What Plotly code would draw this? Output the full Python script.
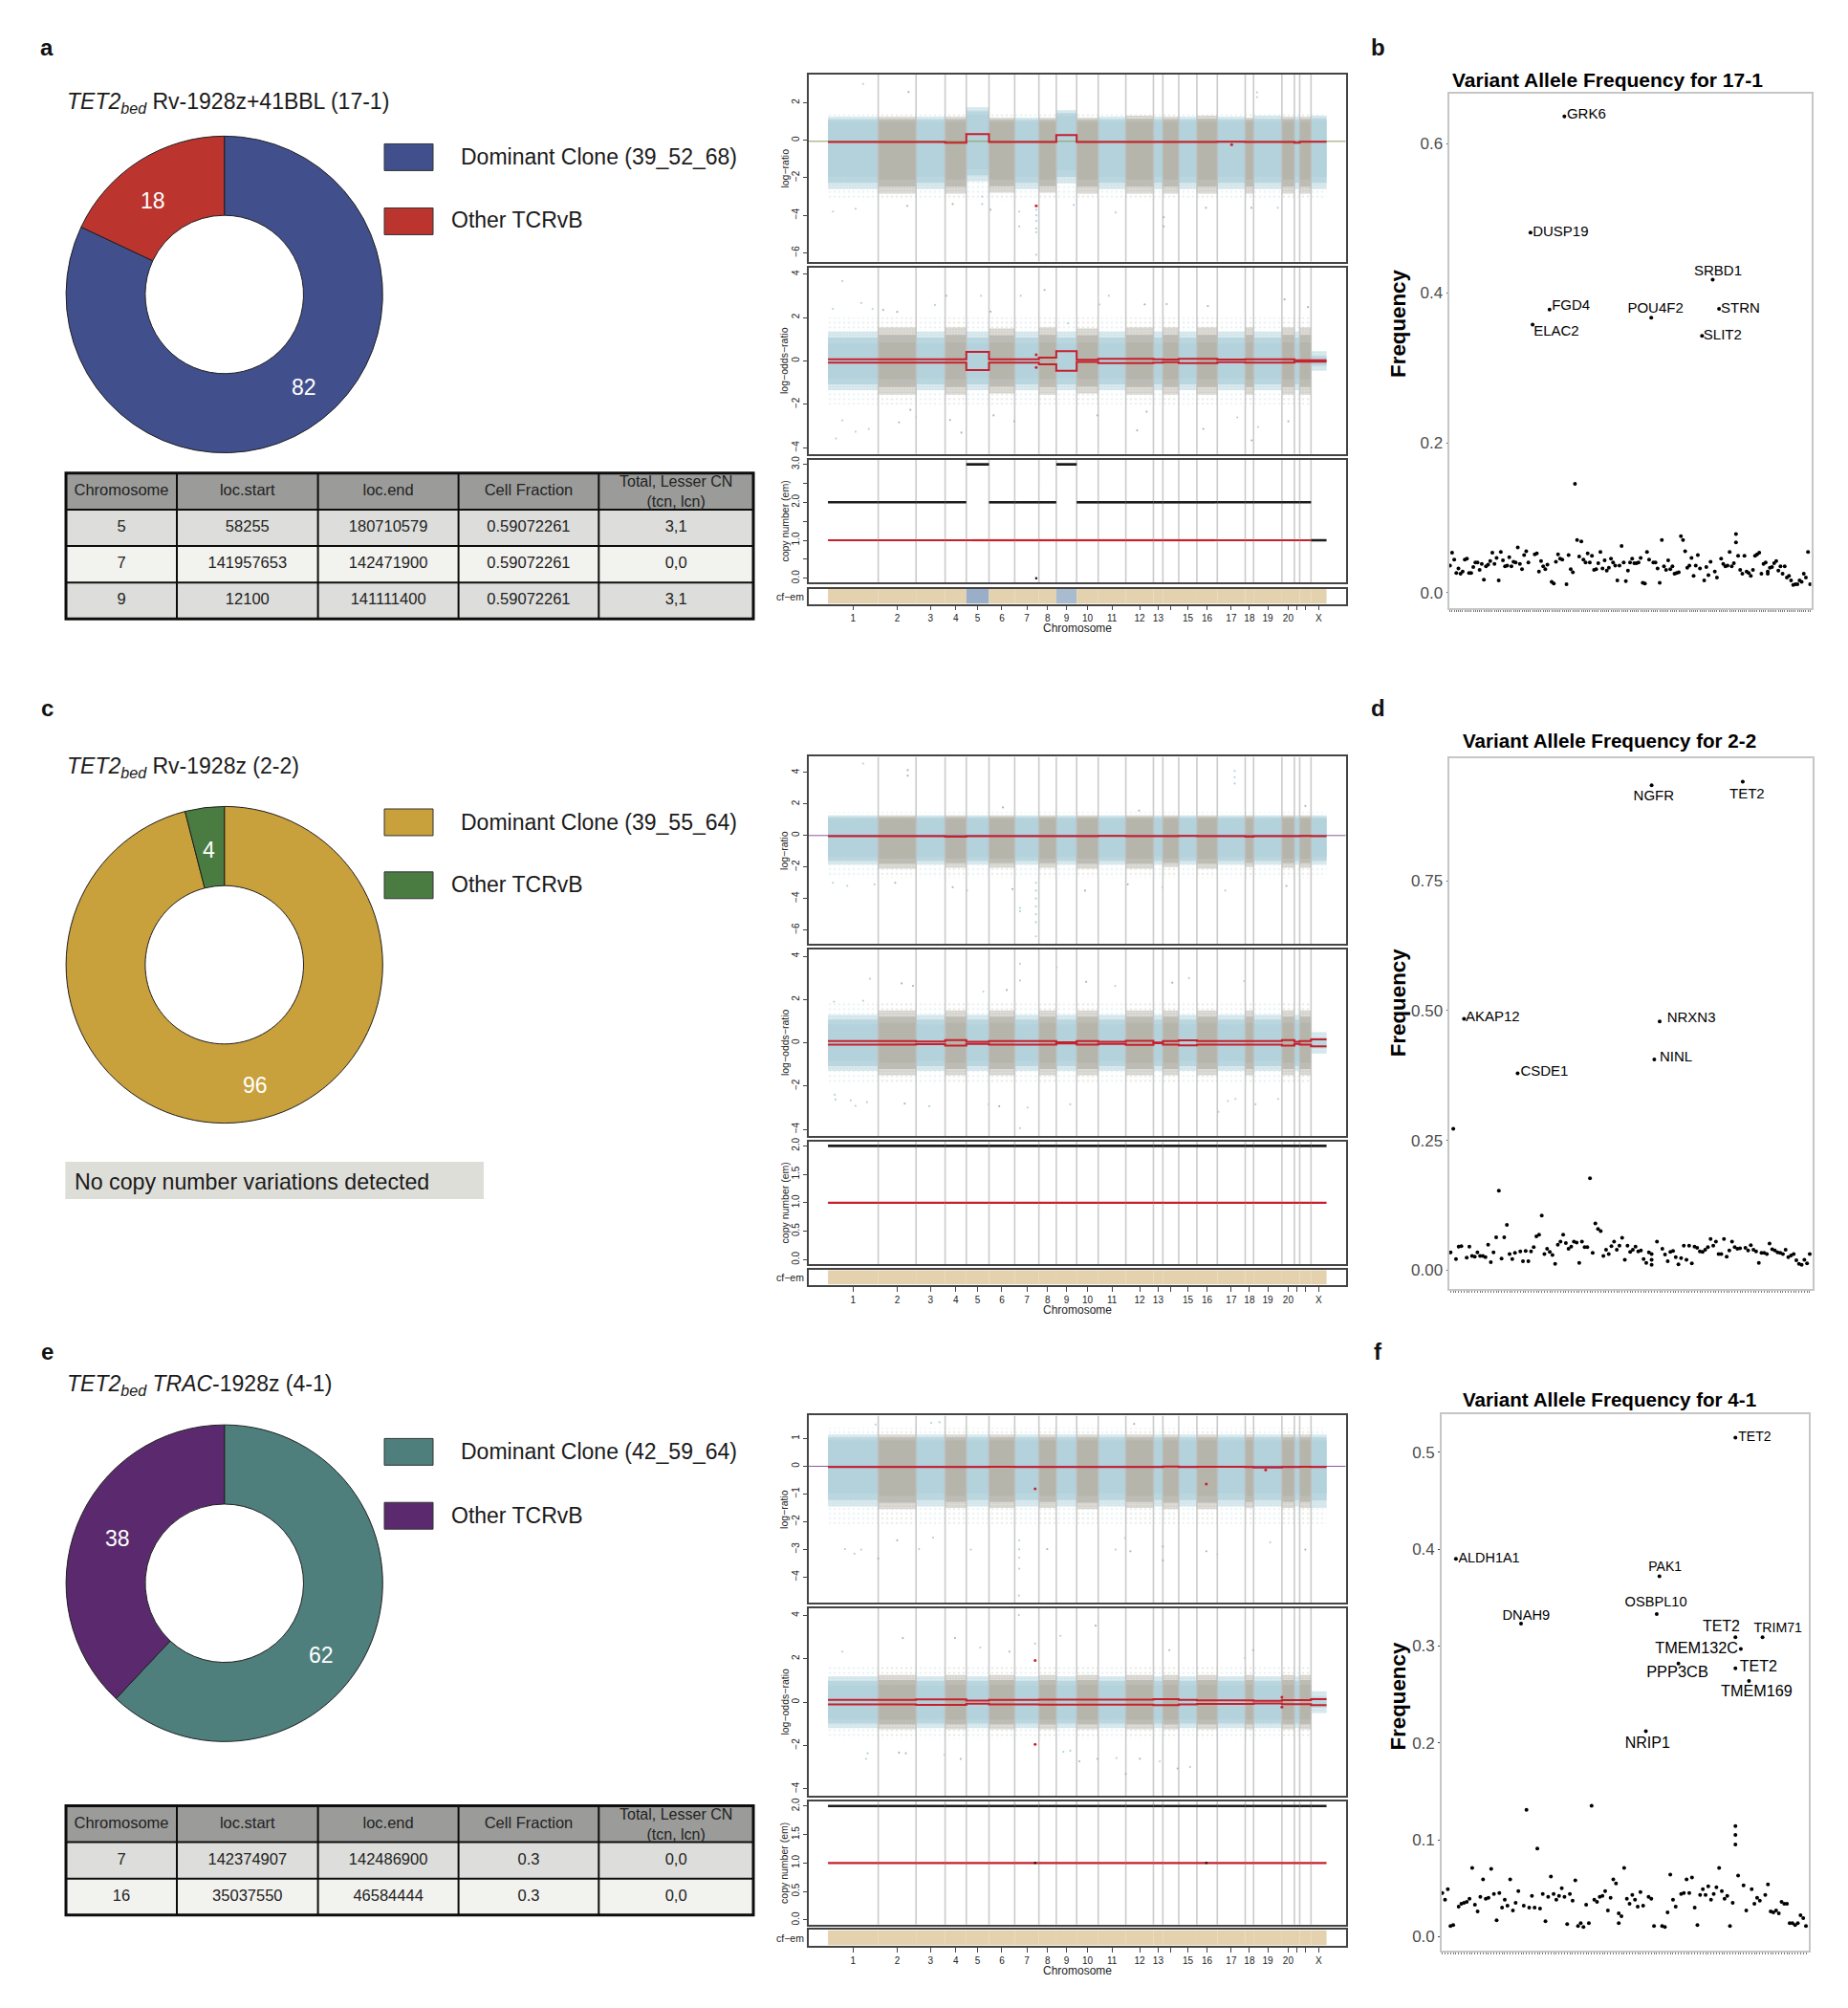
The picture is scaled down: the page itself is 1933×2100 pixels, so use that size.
import plotly.graph_objects as go

W, H = 1933, 2100
FONT = "Liberation Sans"

# ---------- chromosome layout ----------
chrom_names = ["1","2","3","4","5","6","7","8","9","10","11","12","13","14","15","16","17","18","19","20","21","22","X"]
chrom_shown = ["1","2","3","4","5","6","7","8","9","10","11","12","13","15","16","17","18","19","20","X"]
chrom_len = [133,100,77,56,60,68,64,46,54,57,73,73,25,42,48,54,74,22,75,33,14,30,41]

# ---------- sample a ----------
a_lr_core_hi = [.98,.98,.98,.98,1.35,.98,.98,.98,1.3,.98,.98,.98,.98,.98,.98,.98,.98,.98,.98,.98,.98,.98,1.05]
a_lr_core_lo = [-1.95,-2.1,-1.95,-2.1,-1.55,-2.1,-1.95,-2.1,-1.6,-2.1,-1.95,-2.1,-1.95,-2.1,-1.95,-2.1,-1.95,-2.1,-1.95,-2.1,-1.95,-2.1,-1.95]
a_lr_edge_hi = [1.25,1.25,1.25,1.25,1.75,1.2,1.2,1.2,1.6,1.2,1.25,1.3,1.25,1.25,1.25,1.3,1.25,1.2,1.3,1.25,1.25,1.25,1.3]
a_lr_edge_lo = [-2.6,-2.85,-2.6,-2.85,-2.2,-2.8,-2.6,-2.8,-2.3,-2.85,-2.6,-2.85,-2.6,-2.85,-2.6,-2.85,-2.6,-2.85,-2.6,-2.85,-2.6,-2.85,-2.6]
a_lr_far = (1.5, -3.2)
a_or_core = [.8,.85,.8,.85,.8,.85,.8,.85,.8,.85,.8,.85,.8,.85,.8,.85,.8,.85,.8,.85,.8,.85,0]
a_or_edge = [1.35,1.55,1.35,1.55,1.35,1.5,1.35,1.55,1.35,1.5,1.35,1.55,1.35,1.55,1.35,1.55,1.35,1.55,1.35,1.55,1.35,1.55,.45]
a_or_far = 2.0
a_lr_seg = [-.1,-.1,-.1,-.13,.33,-.1,-.1,-.1,.27,-.1,-.1,-.1,-.1,-.1,-.1,-.1,-.08,-.1,-.1,-.1,-.13,-.08,-.08]
a_or_seg = [.08,.08,.08,.08,.42,.08,.08,.15,.45,.05,.1,.1,.08,.06,.1,.1,.06,.08,.08,.08,.03,.03,.03]
a_tcn = [2,2,2,2,3,2,2,2,3,2,2,2,2,2,2,2,2,2,2,2,2,2,1]
a_lcn = [1,1,1,1,1,1,1,1,1,1,1,1,1,1,1,1,1,1,1,1,1,1,None]
a_cf = ["#e4d1ad","#e4d1ad","#e4d1ad","#e4d1ad","#9aaec7","#e4d1ad","#e4d1ad","#e4d1ad","#a9bbcf"] + ["#e4d1ad"] * 14
a_lr_out_x = [93,213,1135,1135,551,551,551,551,551,551,506,506,888,888,408,408,13,73,761,430,650,1000,210,330,1120,1190]
a_lr_out_y = [3.0,2.57,2.55,2.3,-3.7,-4.0,-4.3,-4.7,-4.9,-6.1,-3.8,-4.6,-4.1,-4.6,-3.0,-3.4,-3.8,-3.65,-3.85,-3.7,-3.45,-3.6,-3.5,-3.4,-3.6,-3.6]
a_lr_red_x = [551,1068]
a_lr_red_y = [-3.5,-.24]
a_or_out_x = [38,88,13,118,146,183,283,313,405,430,510,573,635,718,743,838,896,1005,1270,1208,21,38,73,108,188,218,233,323,353,438,493,713,818,843,993,1083,1121,1138,1218]
a_or_out_y = [3.68,2.67,2.4,2.4,2.35,2.26,2.58,3.0,3.0,2.27,3.0,3.27,1.73,2.6,3.0,2.6,2.62,2.53,2.48,2.83,-3.57,-2.74,-3.26,-3.13,-2.83,-2.25,-2.6,-2.72,-3.3,-2.51,-2.78,-2.51,-3.2,-2.34,-3.13,-2.6,-3.66,-3.04,-2.78]
a_or_red_x = [551,551]
a_or_red_y = [.28,-.3]

# ---------- sample c ----------
c_lr_core_hi = [1.05] * 23
c_lr_core_lo = [-1.36,-1.47,-1.36,-1.47,-1.36,-1.47,-1.36,-1.47,-1.36,-1.47,-1.36,-1.47,-1.36,-1.47,-1.36,-1.47,-1.36,-1.47,-1.36,-1.47,-1.36,-1.47,-1.36]
c_lr_edge_hi = [1.28] * 23
c_lr_edge_lo = [-1.85,-2.1,-1.85,-2.05,-1.85,-2.05,-1.85,-2.05,-1.85,-2.1,-1.85,-2.1,-1.85,-2.0,-1.85,-2.1,-1.85,-2.0,-1.85,-2.05,-1.85,-2.05,-1.85]
c_lr_far = (1.5, -2.7)
c_or_core = [.85,.92,.85,.92,.85,.92,.85,.92,.85,.92,.85,.92,.85,.92,.85,.92,.85,.92,.85,.92,.85,.92,0]
c_or_edge = [1.3,1.5,1.3,1.5,1.3,1.5,1.3,1.5,1.3,1.5,1.3,1.5,1.3,1.5,1.3,1.5,1.3,1.5,1.3,1.5,1.3,1.5,.5]
c_or_far = 1.9
c_lr_seg = [-.05,-.05,-.05,-.08,-.05,-.05,-.05,-.05,-.05,-.05,-.03,-.05,-.05,-.05,-.03,-.05,-.05,-.07,-.05,-.05,-.05,-.02,-.05]
c_or_seg = [.08,.08,.06,.13,.05,.08,.08,.08,.03,.08,.05,.09,.02,.08,.12,.08,.08,.08,.08,.13,.05,.08,.16]
c_tcn = [2] * 23
c_lcn = [1] * 23
c_cf = ["#e4d1ad"] * 23
c_lr_out_x = [93,211,211,1076,1076,1076,550,550,550,550,550,550,550,508,508,13,51,123,178,330,368,488,680,793,885,1051,1213,823,463,1263]
c_lr_out_y = [4.57,4.15,3.8,4.1,3.7,3.3,-3.0,-3.5,-4.0,-4.5,-5.0,-5.5,-6.4,-4.6,-4.8,-3.0,-3.2,-3.1,-3.0,-3.28,-3.5,-3.4,-3.5,-3.1,-3.3,-3.5,-3.2,1.58,1.78,1.88]
c_or_out_x = [111,508,605,195,225,683,508,760,955,911,1101,473,411,16,93,18,20,60,73,103,203,268,425,453,528,508,641,1033,1058,1078,1131,1191]
c_or_out_y = [2.96,3.66,3.49,2.75,2.63,2.82,2.88,2.63,2.99,2.78,2.85,2.44,2.37,1.9,1.94,-2.4,-2.62,-2.66,-2.91,-2.74,-2.81,-2.93,-2.84,-2.93,-2.99,-3.94,-2.84,-3.19,-2.69,-2.59,-2.84,-2.59]

# ---------- sample e ----------
e_lr_core_hi = [.93] * 23
e_lr_core_lo = [-.98,-1.07,-.98,-1.07,-.98,-1.07,-.98,-1.07,-.98,-1.07,-.98,-1.07,-.98,-1.07,-.98,-1.07,-.98,-1.07,-.98,-1.07,-.98,-1.07,-.98]
e_lr_edge_hi = [1.15] * 23
e_lr_edge_lo = [-1.45,-1.55,-1.45,-1.5,-1.45,-1.5,-1.45,-1.5,-1.45,-1.55,-1.45,-1.5,-1.45,-1.55,-1.45,-1.55,-1.45,-1.5,-1.45,-1.5,-1.45,-1.5,-1.5]
e_lr_far = (1.4, -2.1)
e_or_core = [.78,.8,.78,.8,.78,.8,.78,.8,.78,.8,.78,.8,.78,.8,.78,.8,.78,.8,.78,.8,.78,.8,0]
e_or_edge = [1.2,1.25,1.2,1.25,1.2,1.25,1.2,1.25,1.2,1.25,1.2,1.25,1.2,1.25,1.2,1.25,1.2,1.25,1.2,1.25,1.2,1.25,.5]
e_or_far = 1.7
e_lr_seg = [-.03,-.03,-.03,-.03,-.03,-.02,-.03,-.03,-.03,-.03,-.03,-.03,-.03,-.01,-.03,-.02,-.02,-.03,-.04,-.03,-.03,-.02,-.03]
e_or_seg = [.1,.1,.13,.13,.07,.1,.1,.12,.12,.12,.12,.12,.14,.14,.11,.08,.08,.08,.06,.09,.09,.09,.14]
e_tcn = [2] * 23
e_lcn = [1] * 23
e_cf = ["#e4d1ad"] * 23
e_lr_out_x = [273,295,126,810,133,45,70,88,183,241,278,378,506,506,506,506,505,580,761,786,800,886,886,1001,1030,1170,1263]
e_lr_out_y = [1.57,1.59,1.51,1.53,-3.33,-2.99,-3.16,-3.01,-2.67,-2.99,-2.58,-3.01,-2.67,-3.0,-3.3,-3.7,-4.67,-2.99,-3.01,-2.59,-3.07,-2.9,-3.4,-3.07,-3.18,-2.75,-3.01]
e_lr_red_x = [1001,1158,548]
e_lr_red_y = [-.64,-.13,-.81]
e_or_out_x = [505,708,615,336,198,548,403,480,38,903,1125,1103,101,105,188,206,308,351,665,713,788,825,925,958,878,623,641,763]
e_or_out_y = [4.02,3.53,3.06,2.96,2.96,2.7,2.52,2.33,2.33,2.4,2.4,2.04,-2.62,-2.36,-2.33,-2.36,-2.43,-2.62,-2.73,-2.62,-3.31,-2.61,-3.06,-2.99,-2.73,-2.29,-2.24,-2.58]
e_or_red_x = [548,1201,1201,548]
e_or_red_y = [1.92,.23,-.23,-1.95]

# ---------- donuts ----------
a_pie = [82, 18]
c_pie = [96, 4]
e_pie = [62, 38]

# ---------- tables ----------
table_head = ["Chromosome", "loc.start", "loc.end", "Cell Fraction", "\u00a0"]
a_chrom = ["5", "7", "9"]
a_start = ["58255", "141957653", "12100"]
a_end = ["180710579", "142471900", "141111400"]
a_frac = ["0.59072261", "0.59072261", "0.59072261"]
a_cn = ["3,1", "0,0", "3,1"]
e_chrom = ["7", "16"]
e_start = ["142374907", "35037550"]
e_end = ["142486900", "46584444"]
e_frac = ["0.3", "0.3"]
e_cn = ["0,0", "0,0"]

# ---------- variant allele frequencies ----------
b_vaf = [.036,.053,.044,.026,.032,.025,.028,.044,.045,.026,.026,.034,.040,.040,.030,.038,.017,.035,.037,.042,
         .053,.038,.046,.016,.054,.043,.035,.036,.047,.035,.041,.040,.060,.038,.031,.050,.055,.040,.481,.358,
         .051,.052,.028,.042,.035,.031,.037,.378,.014,.012,.041,.051,.045,.044,.636,.011,.050,.031,.027,.145,
         .070,.048,.068,.044,.040,.052,.040,.049,.030,.031,.039,.054,.032,.043,.029,.033,.045,.040,.036,.016,
         .036,.062,.040,.015,.029,.040,.045,.039,.039,.040,.046,.013,.012,.054,.044,.367,.040,.040,.032,.013,
         .070,.035,.030,.043,.031,.035,.025,.026,.027,.075,.070,.055,.033,.036,.046,.022,.036,.050,.032,.343,
         .016,.034,.023,.041,.418,.028,.020,.379,.045,.038,.035,.036,.054,.035,.039,.067,.049,.030,.025,.049,
         .028,.026,.022,.030,.049,.051,.053,.025,.038,.040,.025,.033,.034,.039,.042,.029,.035,.025,.035,.020,
         .022,.016,.010,.011,.011,.016,.014,.025,.020,.054,.011]
b_extra_i = [135, 150]
b_extra_v = [.078, .028]
b_genes = ["GRK6","DUSP19","SRBD1","FGD4","POU4F2","STRN","ELAC2","SLIT2"]
b_gene_i = [64.4,52.2,126.5,57.1,97,137.1,50.2,128.7]
b_gene_v = [.638,.481,.428,.382,.379,.378,.348,.343]
b_gene_size = [15,15,15,15,15,15,15,15]

d_vaf = [.034,.272,.021,.045,.046,.484,.024,.045,.027,.026,.034,.027,.027,.025,.049,.015,.034,.063,.153,.022,
         .063,.087,.031,.021,.033,.379,.036,.017,.037,.017,.036,.044,.065,.068,.105,.031,.041,.035,.029,.012,
         .049,.055,.068,.052,.041,.045,.055,.053,.014,.055,.044,.044,.177,.033,.090,.079,.075,.027,.039,.031,
         .046,.055,.039,.047,.062,.020,.047,.035,.039,.045,.036,.038,.021,.014,.034,.934,.406,.055,.479,.041,
         .030,.017,.035,.037,.025,.011,.023,.047,.020,.047,.013,.045,.043,.036,.035,.039,.044,.060,.047,.055,
         .031,.031,.060,.026,.038,.055,.044,.041,.042,.941,.043,.038,.048,.039,.036,.014,.033,.033,.031,.051,
         .040,.038,.034,.033,.031,.039,.025,.028,.031,.019,.012,.010,.020,.013,.031]
d_extra_i = [75, 75, 75]
d_extra_v = [.031, .020, .010]
d_genes = ["AKAP12","CSDE1","NGFR","TET2","NRXN3","NINL"]
d_gene_i = [15.7,35,75.8,110.6,89.8,84.1]
d_gene_v = [.487,.381,.912,.916,.484,.409]
d_gene_size = [15,15,15,15,15,15]

f_vaf = [.045,.038,.049,.011,.012,.390,.031,.034,.035,.036,.039,.071,.033,.026,.041,.059,.039,.040,.070,.044,
         .017,.045,.030,.038,.032,.059,.027,.035,.047,.323,.032,.131,.030,.042,.030,.091,.029,.044,.016,.041,
         .062,.044,.038,.042,.050,.041,.013,.044,.037,.058,.011,.014,.010,.033,.014,.135,.038,.036,.041,.042,
         .047,.027,.040,.059,.055,.024,.021,.071,.039,.034,.043,.038,.031,.046,.032,.212,.041,.039,.011,.333,
         .372,.011,.010,.025,.064,.038,.031,.282,.044,.045,.059,.045,.061,.030,.012,.043,.049,.043,.052,.038,
         .044,.051,.071,.047,.039,.042,.011,.035,.515,.063,.297,.053,.027,.264,.049,.034,.040,.037,.309,.043,
         .054,.026,.025,.027,.024,.036,.034,.034,.014,.014,.012,.014,.022,.019,.011]
f_extra_i = [65, 108, 108, 108, 108, 108]
f_extra_v = [.014, .309, .277, .114, .105, .095]
f_genes = ["TET2","ALDH1A1","PAK1","OSBPL10","DNAH9","TET2","TRIM71","TMEM132C","TET2","PPP3CB","TMEM169","NRIP1"]
f_gene_i = [115.1,17.2,82.1,78.7,30.9,102.8,123.7,93.7,116.5,86.6,115.8,75.6]
f_gene_v = [.515,.390,.381,.344,.331,.319,.318,.297,.278,.272,.252,.199]
f_gene_size = [14,14.4,14,14.6,14.7,16,14.2,16.3,16,16.4,16.2,16]

# ---------- helpers ----------
BLUE, GRAY = "#b3d2dc", "#b6b5ac"
BLUE_M, GRAY_M = "#bcd8e1", "#c0bfb7"
BLUE_T, GRAY_T = "#dcebef", "#deddd8"
RED = "#c5202c"

starts = [sum(chrom_len[:i]) for i in range(len(chrom_len))]
mids = [s + l / 2 for s, l in zip(starts, chrom_len)]
total = sum(chrom_len)
bounds = starts[1:]
X_RANGE = [-52, total + 51]

fig = go.Figure()
layout = {}
annotations = []
shapes = []
axis_n = [0]


def px(x):
    return x / W


def py(y):
    return 1 - y / H


def note(x, y, text, size, color="#1a1a1a", xanchor="center", angle=0):
    annotations.append(dict(x=px(x), y=py(y), xref="paper", yref="paper", text=text, showarrow=False,
                            font=dict(family=FONT, size=size, color=color), xanchor=xanchor, yanchor="middle",
                            textangle=angle, align="center"))


def new_axes(x0, x1, y0, y1, xa, ya):
    axis_n[0] += 1
    n = axis_n[0]
    xkey = "xaxis" if n == 1 else f"xaxis{n}"
    ykey = "yaxis" if n == 1 else f"yaxis{n}"
    xref, yref = ("x", "y") if n == 1 else (f"x{n}", f"y{n}")
    layout[xkey] = dict(domain=[px(x0), px(x1)], anchor=yref, showgrid=False, zeroline=False, **xa)
    layout[ykey] = dict(domain=[py(y1), py(y0)], anchor=xref, showgrid=False, zeroline=False, **ya)
    return xref, yref


def band_bars(xr, yr, lows, highs, idx, color, **marker):
    use = [i for i in idx if highs[i] > lows[i]]
    fig.add_trace(go.Bar(x=[mids[i] for i in use], width=[chrom_len[i] for i in use],
                         y=[highs[i] - lows[i] for i in use], base=[lows[i] for i in use],
                         marker=dict(color=color, line=dict(width=0), **marker),
                         xaxis=xr, yaxis=yr, showlegend=False, hoverinfo="skip"))


def genome_cloud(xr, yr, core_lo, core_hi, edge_lo, edge_hi, far_lo, far_hi):
    mid_lo = [(a + b) / 2 for a, b in zip(core_lo, edge_lo)]
    mid_hi = [(a + b) / 2 for a, b in zip(core_hi, edge_hi)]
    groups = [(list(range(0, 23, 2)), BLUE, BLUE_M, BLUE_T), (list(range(1, 23, 2)), GRAY, GRAY_M, GRAY_T)]
    for idx, col, mid, tint in groups:
        far_pat = dict(shape=".", size=5, solidity=.1, fgcolor=col, bgcolor="rgba(255,255,255,0)")
        band_bars(xr, yr, far_lo, far_hi, idx, "rgba(255,255,255,0)", pattern=far_pat)
        edge_pat = dict(shape=".", size=3, solidity=.3, fgcolor=col, bgcolor=tint)
        band_bars(xr, yr, edge_lo, edge_hi, idx, tint, pattern=edge_pat)
        mid_pat = dict(shape=".", size=2.5, solidity=.5, fgcolor=col, bgcolor=mid)
        band_bars(xr, yr, mid_lo, mid_hi, idx, mid, pattern=mid_pat)
        band_bars(xr, yr, core_lo, core_hi, idx, col)


def vlines(xr, yr, lo, hi):
    xs, ys = [], []
    for b in bounds:
        xs += [b, b, None]
        ys += [lo, hi, None]
    fig.add_trace(go.Scatter(x=xs, y=ys, mode="lines", line=dict(color="rgba(190,190,190,.8)", width=1.6),
                             xaxis=xr, yaxis=yr, showlegend=False, hoverinfo="skip"))


def dots(xr, yr, xs, ys, color=None, size=2.2):
    if color is None:
        cols = []
        for v in xs:
            k = max(i for i, s in enumerate(starts) if s <= v)
            cols.append(BLUE if k % 2 == 0 else GRAY)
    else:
        cols = color
    fig.add_trace(go.Scatter(x=xs, y=ys, mode="markers", marker=dict(size=size, color=cols, line=dict(width=0)),
                             xaxis=xr, yaxis=yr, showlegend=False, hoverinfo="skip"))


def step(xr, yr, vals, width=2):
    xs = starts + [total]
    ys = vals + [vals[-1]]
    fig.add_trace(go.Scatter(x=xs, y=ys, mode="lines", line=dict(color=RED, width=width, shape="hv"),
                             xaxis=xr, yaxis=yr, showlegend=False, hoverinfo="skip"))


def segs(xr, yr, vals, color, width=2.4):
    xs, ys = [], []
    for s, l, v in zip(starts, chrom_len, vals):
        if v is None:
            continue
        xs += [s, s + l, None]
        ys += [v, v, None]
    fig.add_trace(go.Scatter(x=xs, y=ys, mode="lines", line=dict(color=color, width=width),
                             xaxis=xr, yaxis=yr, showlegend=False, hoverinfo="skip"))


FRAME = dict(showline=True, mirror=True, linecolor="#444444", linewidth=1.5)
TICK = dict(ticks="outside", ticklen=4, tickwidth=1, tickcolor="#444444", tickangle=-90,
            tickfont=dict(family=FONT, size=10, color="#222222"))
NO_X = dict(range=X_RANGE, showticklabels=False, ticks="", **FRAME)


def genome(panels, chrom_y, lr, orr, cn, cf, lr_ticks, lr_range, or_range, cn_range, cn_tickvals, cn_minor):
    core_hi, core_lo, edge_hi, edge_lo, lr_far, lr_seg, zero_y, zero_col, lr_out, lr_red = lr
    # log-ratio panel
    xr, yr = new_axes(845.5, 1407.7, *panels[0], NO_X,
                      dict(range=lr_range, tickvals=lr_ticks, **TICK, **FRAME))
    genome_cloud(xr, yr, core_lo, core_hi, edge_lo, edge_hi,
                 [lr_far[1]] * 23, [lr_far[0]] * 23)
    vlines(xr, yr, lr_range[0], lr_range[1])
    dots(xr, yr, *lr_out)
    fig.add_trace(go.Scatter(x=X_RANGE, y=[zero_y, zero_y], mode="lines", line=dict(color=zero_col, width=1),
                             xaxis=xr, yaxis=yr, showlegend=False, hoverinfo="skip"))
    step(xr, yr, lr_seg, 2)
    if lr_red:
        dots(xr, yr, lr_red[0], lr_red[1], RED, 3)
    note(820.6, sum(panels[0]) / 2, "log\u2212ratio", 10.5, "#222222", angle=-90)

    # log-odds-ratio panel
    or_core, or_edge, or_far, or_seg, or_out, or_red = orr
    xr, yr = new_axes(845.5, 1407.7, *panels[1], NO_X,
                      dict(range=or_range, tickvals=[-4, -2, 0, 2, 4], **TICK, **FRAME))
    low = lambda a: [-v for v in a]
    far = [or_far if v > 0 else 0 for v in or_core]
    genome_cloud(xr, yr, low(or_core), or_core, low(or_edge), or_edge, low(far), far)
    vlines(xr, yr, or_range[0], or_range[1])
    dots(xr, yr, *or_out)
    step(xr, yr, or_seg, 2)
    step(xr, yr, low(or_seg), 2)
    if or_red:
        dots(xr, yr, or_red[0], or_red[1], RED, 3)
    note(820.6, sum(panels[1]) / 2, "log\u2212odds\u2212ratio", 10.5, "#222222", angle=-90)

    # copy number panel
    tcn, lcn, cn_dots = cn
    xr, yr = new_axes(845.5, 1407.7, *panels[2], NO_X,
                      dict(range=cn_range, tickvals=cn_tickvals, tickformat=".1f",
                           minor=dict(tickvals=cn_minor, ticks="outside", ticklen=4, tickcolor="#444444"),
                           **TICK, **FRAME))
    vlines(xr, yr, cn_range[0], cn_range[1])
    segs(xr, yr, tcn, "#1c1c1c", 2.6)
    segs(xr, yr, lcn, RED, 2.2)
    if cn_dots:
        dots(xr, yr, cn_dots[0], cn_dots[1], "#111111", 2.5)
    note(820.6, sum(panels[2]) / 2, "copy number (em)", 10.5, "#222222", angle=-90)

    # clonal-fraction strip
    shown_mid = [m for m, n in zip(mids, chrom_names) if n in chrom_shown]
    hidden_mid = [m for m, n in zip(mids, chrom_names) if n not in chrom_shown]
    xr, yr = new_axes(845.5, 1407.7, *panels[3],
                      dict(range=X_RANGE, tickvals=shown_mid, ticktext=chrom_shown, ticks="outside", ticklen=5,
                           tickwidth=1, tickcolor="#444444", tickangle=0,
                           minor=dict(tickvals=hidden_mid, ticks="outside", ticklen=5, tickcolor="#444444"),
                           tickfont=dict(family=FONT, size=10, color="#222222"), **FRAME),
                      dict(range=[0, 1], showticklabels=False, ticks="", **FRAME))
    fig.add_trace(go.Bar(x=mids, width=chrom_len, y=[.94] * 23, base=[.03] * 23,
                         marker=dict(color=cf, line=dict(width=0)), xaxis=xr, yaxis=yr,
                         showlegend=False, hoverinfo="skip"))
    note(842.7, sum(panels[3]) / 2, "cf\u2212em", 10.5, "#222222", xanchor="right")
    note(1126.6, chrom_y, "Chromosome", 12, "#222222")


def donut(cy, vals, cols, title, ty, legend, rect_y, text_y, lab_pos):
    r = 166
    fig.add_trace(go.Pie(values=vals, labels=legend, sort=False, direction="clockwise", rotation=0, hole=.5,
                         marker=dict(colors=cols, line=dict(color="#1f1f1f", width=1)), textinfo="none",
                         domain=dict(x=[px(234.7 - r), px(234.7 + r)], y=[py(cy + r), py(cy - r)]),
                         showlegend=False, hoverinfo="skip"))
    note(67.5, ty, title, 23, xanchor="left")
    for col, ry in zip(cols, rect_y):
        shapes.append(dict(type="rect", xref="paper", yref="paper", x0=px(402), x1=px(453), y0=py(ry + 14), y1=py(ry - 14),
                           fillcolor=col, line=dict(color="#333333", width=1)))
    note(480, text_y[0], legend[0], 23, xanchor="left")
    note(469.5, text_y[1], legend[1], 23, xanchor="left")
    for v, (x, y) in zip(vals, lab_pos):
        note(x, y, str(v), 23, "#ffffff")


def table(top, cols):
    n = len(cols[0])
    xs = [69, 185, 332.6, 479.6, 626.3, 788]
    row = 38.2
    bottom = top + row * (n + 1)
    fills = ["#9b9c9a", "#dddedb", "#f2f2ee", "#dddedb"][:n + 1]
    below = dict(xref="paper", yref="paper", layer="below")
    edge = dict(color="#0d0d0d", width=2)
    for i, col in enumerate(fills):
        shapes.append(dict(type="rect", x0=px(xs[0]), x1=px(xs[-1]), y0=py(top + row * (i + 1)), y1=py(top + row * i),
                           fillcolor=col, line=dict(width=0), **below))
    for i in range(1, n + 1):
        shapes.append(dict(type="line", x0=px(xs[0]), x1=px(xs[-1]), y0=py(top + row * i), y1=py(top + row * i),
                           line=edge, **below))
    for x in xs[1:-1]:
        shapes.append(dict(type="line", x0=px(x), x1=px(x), y0=py(bottom), y1=py(top), line=edge, **below))
    shapes.append(dict(type="rect", x0=px(xs[0]), x1=px(xs[-1]), y0=py(bottom), y1=py(top),
                       line=dict(color="#0d0d0d", width=3), fillcolor="rgba(0,0,0,0)", **below))
    # the table trace carries the text; it sits a little lower so that its text centres in the rows
    clear = "rgba(0,0,0,0)"
    fig.add_trace(go.Table(
        domain=dict(x=[px(xs[0]), px(xs[-1])], y=[py(bottom + 4), py(top + 2.7)]),
        columnwidth=[xs[i + 1] - xs[i] for i in range(5)],
        header=dict(values=table_head, height=row, fill_color=clear, line=dict(color=clear, width=0),
                    font=dict(family=FONT, size=16.5, color="#222222"), align="center"),
        cells=dict(values=cols, height=row, fill_color=clear, line=dict(color=clear, width=0),
                   font=dict(family=FONT, size=16.5, color="#222222"), align="center")))
    note((xs[4] + xs[5]) / 2, top + 19.5, "Total, Lesser CN<br>(tcn, lcn)", 16, "#222222")


def vaf_plot(box, xr_range, yr_range, ticks, tickfmt, vals, ex_i, ex_v, genes, gi, gv, gene_size, title, title_size, title_x, title_y, freq_y):
    idx = list(range(len(vals)))
    SC = dict(showline=True, mirror=True, linecolor="#c6c6c6", linewidth=2)
    xr, yr = new_axes(box[0], box[1], box[2], box[3],
                      dict(range=xr_range, tickvals=idx, showticklabels=False, ticks="outside", ticklen=2,
                           tickwidth=1, tickcolor="#777777", **SC),
                      dict(range=yr_range, tickvals=ticks, tickformat=tickfmt, ticks="outside", ticklen=1.5, tickwidth=1,
                           tickcolor="#444444", tickfont=dict(family=FONT, size=17, color="#4d4d4d"), **SC))
    fig.add_trace(go.Scatter(x=idx + ex_i, y=vals + ex_v, mode="markers", marker=dict(size=4, color="black"),
                             xaxis=xr, yaxis=yr, showlegend=False, hoverinfo="skip"))
    fig.add_trace(go.Scatter(x=gi, y=gv, mode="text", text=genes, textposition="middle center",
                             textfont=dict(family=FONT, size=gene_size, color="black"),
                             xaxis=xr, yaxis=yr, showlegend=False, hoverinfo="skip"))
    note(title_x, title_y, f"<b>{title}</b>", title_size, "black")
    note(1462.7, freq_y, "<b>Frequency</b>", 22.3, "black", angle=-90)


# ---------- panel letters ----------
for ltr, x, y in [("a", 49, 45.6), ("b", 1441, 45.6), ("c", 49.6, 738), ("d", 1441, 738), ("e", 49.6, 1413), ("f", 1441, 1413)]:
    note(x, y, f"<b>{ltr}</b>", 24, "#111111")

# ---------- row a ----------
donut(304.7, a_pie, ["#41508c", "#bb342e"], "<i>TET2<sub>bed</sub></i> Rv-1928z+41BBL (17-1)", 104,
      ["Dominant Clone (39_52_68)", "Other TCRvB"], [160.8, 228], [160.8, 226.7], [(317.7, 401.7), (159.6, 206)])
table(492, [a_chrom, a_start, a_end, a_frac, a_cn])
genome([(74.3, 270.5), (276.5, 472), (478, 606.5), (613, 629.2)], 654.7,
       (a_lr_core_hi, a_lr_core_lo, a_lr_edge_hi, a_lr_edge_lo, a_lr_far, a_lr_seg, -.06, "#8f9b5a",
        (a_lr_out_x, a_lr_out_y), (a_lr_red_x, a_lr_red_y)),
       (a_or_core, a_or_edge, a_or_far, a_or_seg, (a_or_out_x, a_or_out_y), (a_or_red_x, a_or_red_y)),
       (a_tcn, a_lcn, ([551], [0])), a_cf, [-6, -4, -2, 0, 2], [-6.48, 3.49], [-4.29, 4.3], [-.11, 3.12],
       [0, 1, 2, 3], [.5, 1.5, 2.5])
vaf_plot((1516, 1894.5, 94.2, 633.5), [-.3, 170.5], [-.021, .6665], [0, .2, .4, .6], ".1f",
         b_vaf, b_extra_i, b_extra_v, b_genes, b_gene_i, b_gene_v, b_gene_size, "Variant Allele Frequency for 17-1", 21, 1681, 79.5, 335)

# ---------- row c ----------
donut(1007.4, c_pie, ["#c8a03c", "#4a7c42"], "<i>TET2<sub>bed</sub></i> Rv-1928z (2-2)", 800,
      ["Dominant Clone (39_55_64)", "Other TCRvB"], [858, 924], [857.7, 923.3], [(266.6, 1133.6), (218.4, 887)])
shapes.append(dict(type="rect", xref="paper", yref="paper", x0=px(68.3), x1=px(506), y0=py(1253), y1=py(1214),
                   fillcolor="#deded9", line=dict(width=0)))
note(75.5, 1235, "No copy number variations detected", 23.2, xanchor="left")
genome([(789.3, 985.5), (991.2, 1187), (1192.5, 1321.2), (1327.2, 1343)], 1369,
       (c_lr_core_hi, c_lr_core_lo, c_lr_edge_hi, c_lr_edge_lo, c_lr_far, c_lr_seg, 0, "#8a5aa0",
        (c_lr_out_x, c_lr_out_y), None),
       (c_or_core, c_or_edge, c_or_far, c_or_seg, (c_or_out_x, c_or_out_y), None),
       (c_tcn, c_lcn, None), c_cf, [-6, -4, -2, 0, 2, 4], [-6.88, 5.0], [-4.31, 4.32], [-.08, 2.08],
       [0, .5, 1, 1.5, 2], [])
vaf_plot((1516, 1895.5, 790.4, 1347), [-.48, 134.9], [-.036, .987], [0, .25, .5, .75], ".2f",
         d_vaf, d_extra_i, d_extra_v, d_genes, d_gene_i, d_gene_v, d_gene_size, "Variant Allele Frequency for 2-2", 20.6, 1683.8, 772, 1047)

# ---------- row e ----------
donut(1655.7, e_pie, ["#4e7f7c", "#5b2a6e"], "<i>TET2<sub>bed</sub> TRAC</i>-1928z (4-1)", 1448,
      ["Dominant Clone (42_59_64)", "Other TCRvB"], [1518, 1585], [1517.8, 1584.7], [(336.2, 1730.8), (123.2, 1608.9)])
table(1889, [e_chrom, e_start, e_end, e_frac, e_cn])
genome([(1480, 1676.2), (1682, 1878.5), (1884.5, 2013.5), (2019, 2035.7)], 2061.7,
       (e_lr_core_hi, e_lr_core_lo, e_lr_edge_hi, e_lr_edge_lo, e_lr_far, e_lr_seg, 0, "#8a5aa0",
        (e_lr_out_x, e_lr_out_y), (e_lr_red_x, e_lr_red_y)),
       (e_or_core, e_or_edge, e_or_far, e_or_seg, (e_or_out_x, e_or_out_y), (e_or_red_x, e_or_red_y)),
       (e_tcn, e_lcn, ([548, 1001], [1, 1])), e_cf, [-4, -3, -2, -1, 0, 1], [-4.93, 1.83], [-4.32, 4.33], [-.08, 2.08],
       [0, .5, 1, 1.5, 2], [])
vaf_plot((1507.7, 1892, 1478.2, 2041), [-.35, 135.05], [-.0146, .5396], [0, .1, .2, .3, .4, .5], ".1f",
         f_vaf, f_extra_i, f_extra_v, f_genes, f_gene_i, f_gene_v, f_gene_size, "Variant Allele Frequency for 4-1", 20.6, 1683.8, 1463.3, 1774)

fig.update_layout(width=W, height=H, autosize=False, margin=dict(l=0, r=0, t=0, b=0), paper_bgcolor="white",
                  plot_bgcolor="white", barmode="overlay", showlegend=False, annotations=annotations, shapes=shapes,
                  font=dict(family=FONT), **layout)
fig.write_html("out.html", config={"displayModeBar": False},
               post_script="document.body.style.margin='0';document.body.style.overflow='hidden';")
